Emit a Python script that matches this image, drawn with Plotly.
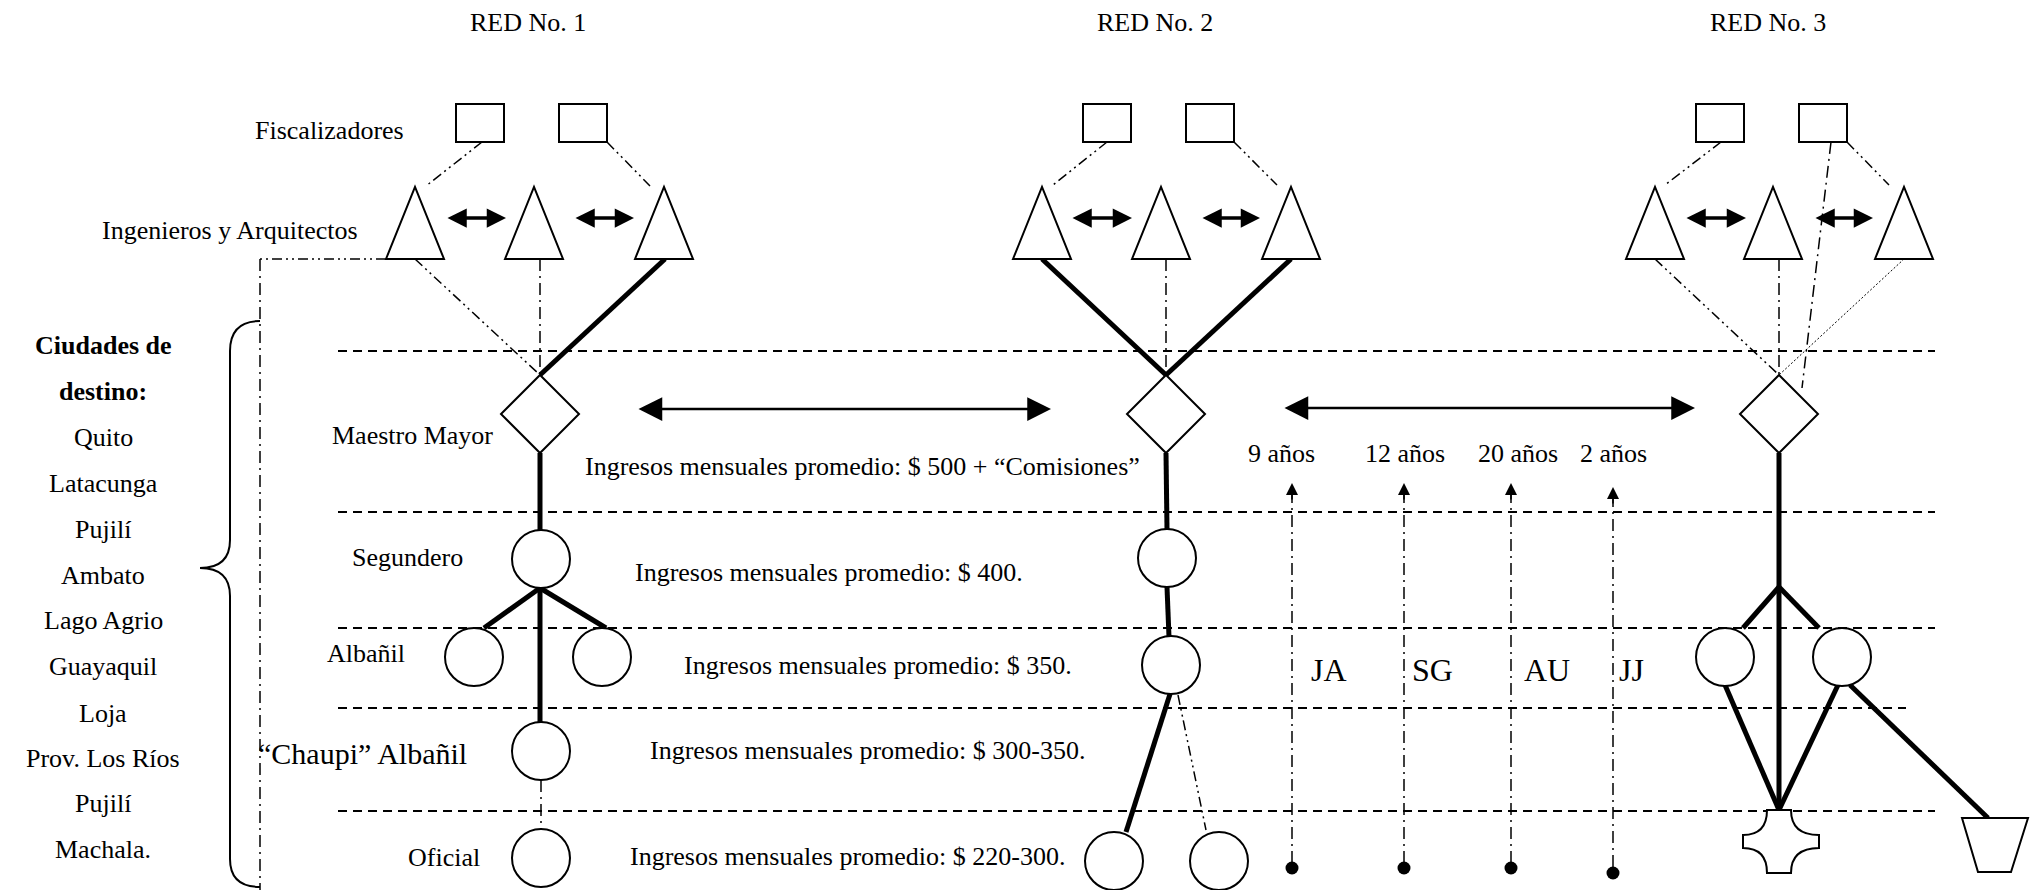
import plotly.graph_objects as go

W, H = 2033, 890
FONT = "Liberation Serif, Times New Roman, serif"
FS = 26

# ---------------- text content ----------------
network_titles = ["RED No. 1", "RED No. 2", "RED No. 3"]
network_title_x = [528, 1155, 1768]
network_title_y = [22, 22, 22]

role_labels = ["Fiscalizadores", "Ingenieros y Arquitectos", "Maestro Mayor", "Segundero",
               "Albañil", "“Chaupi” Albañil", "Oficial"]
role_label_x = [329, 230, 412, 407, 366, 362, 444]
role_label_y = [130, 230, 435, 557, 653, 753, 857]
role_label_size = [26, 26, 26, 26, 26, 30, 26]

income_labels = ["Ingresos mensuales promedio: $ 500 + “Comisiones”",
                 "Ingresos mensuales promedio: $ 400.",
                 "Ingresos mensuales promedio: $ 350.",
                 "Ingresos mensuales promedio: $ 300-350.",
                 "Ingresos mensuales promedio: $ 220-300."]
income_x = [862, 829, 878, 867, 847]
income_y = [466, 572, 665, 750, 856]

city_header = ["Ciudades de", "destino:"]
city_header_y = [345, 391]
cities = ["Quito", "Latacunga", "Pujilí", "Ambato", "Lago Agrio", "Guayaquil",
          "Loja", "Prov. Los Ríos", "Pujilí", "Machala."]
city_y = [437, 483, 529, 575, 620, 666, 713, 758, 803, 849]
city_x = 103

years = ["9 años", "12 años", "20 años", "2 años"]
years_text_x = [1281, 1405, 1518, 1613]
years_text_y = 453
initials = ["JA", "SG", "AU", "JJ"]
initials_x = [1329, 1432, 1547, 1631]
initials_y = 670
trajectory_x = [1292, 1404, 1511, 1613]
trajectory_top = [483, 483, 483, 487]
trajectory_bottom = [868, 868, 868, 873]

# ---------------- diagram geometry ----------------
band_y = [351, 512, 628, 708, 811]
band_x0 = 338
band_x1 = [1935, 1935, 1935, 1906, 1935]

square_x = [480, 583, 1107, 1210, 1720, 1823]
square_y = 123
square_hw, square_hh = 24, 19

triangle_x = [415, 534, 664, 1042, 1161, 1291, 1655, 1773, 1904]
tri_apex_y, tri_base_y, tri_hw = 187, 259, 29

tri_arrows = [(446, 506), (574, 634), (1071, 1132), (1201, 1260), (1685, 1746), (1814, 1873)]
tri_arrow_y = 218

diamond_x = [540, 1166, 1779]
diamond_y = 414
diamond_h = 39

circle_x = [541, 474, 602, 541, 541, 1167, 1171, 1114, 1219, 1725, 1842]
circle_y = [559, 657, 657, 751, 858, 558, 665, 861, 861, 657, 657]
circle_r = 29

long_arrows = [(637, 1051, 409), (1283, 1695, 408)]

# edges: x0, y0, x1, y1, style
edges = [
    # fiscalizadores -> ingenieros
    (482, 142, 426, 186, "dd"), (607, 142, 650, 186, "dd"),
    (1107, 142, 1053, 185, "dd"), (1234, 142, 1277, 185, "dd"),
    (1721, 142, 1665, 185, "dd"), (1847, 142, 1889, 185, "dd"),
    (1831, 142, 1802, 388, "ld"),
    # ingenieros -> maestro mayor
    (415, 259, 540, 375, "dd"), (540, 259, 540, 375, "ld"), (665, 259, 540, 375, "thick"),
    (1042, 259, 1166, 375, "thick"), (1166, 259, 1166, 375, "ld"), (1291, 259, 1166, 375, "thick"),
    (1655, 259, 1779, 375, "dd"), (1779, 259, 1779, 375, "ld"), (1904, 259, 1779, 375, "dot"),
    # left frame
    (386, 259, 260, 259, "dd"), (260, 259, 260, 890, "ld"),
    # RED 1 lower
    (540, 453, 540, 530, "thick"), (540, 588, 484, 628, "thick"), (540, 588, 606, 628, "thick"),
    (540, 588, 540, 722, "thick"), (541, 780, 541, 829, "ld"),
    # RED 2 lower
    (1166, 453, 1167, 529, "thick"), (1167, 587, 1169, 637, "thick"),
    (1170, 694, 1126, 832, "thick"), (1178, 695, 1206, 830, "dd"),
    # RED 3 lower
    (1779, 453, 1779, 810, "thick"), (1779, 587, 1743, 628, "thick"), (1779, 587, 1819, 628, "thick"),
    (1725, 685, 1779, 810, "thick"), (1838, 685, 1779, 810, "thick"), (1850, 685, 1988, 818, "thick"),
]

edge_styles = {
    "thick": dict(width=5, dash="solid"),
    "dd": dict(width=1.5, dash="10px,4px,2px,4px,2px,4px"),
    "ld": dict(width=1.5, dash="12px,5px,2px,5px"),
    "dot": dict(width=1, dash="2px,2px"),
}

# special shapes (RED 3 bottom)
cross_cx, cross_top, cross_bot, cross_left, cross_right = 1779, 810, 873, 1743, 1819
cross_arm, cross_mid0, cross_mid1 = 12, 835, 848
bucket_top_x = (1962, 2028)
bucket_bot_x = (1978, 2011)
bucket_y = (818, 872)

brace_x = (260, 230, 200)
brace_y = (321, 568, 887)

# ---------------- build figure ----------------
shapes = []
annotations = []

for y, x1 in zip(band_y, band_x1):
    shapes.append(dict(type="line", xref="x", yref="y", x0=band_x0, x1=x1, y0=y, y1=y,
                       line=dict(color="black", width=2, dash="9px,6px")))

for x0, y0, x1, y1, st in edges:
    shapes.append(dict(type="line", xref="x", yref="y", x0=x0, y0=y0, x1=x1, y1=y1,
                       line=dict(color="black", **edge_styles[st])))

# trajectories (dash-dot vertical lines)
for x, yt, yb in zip(trajectory_x, trajectory_top, trajectory_bottom):
    shapes.append(dict(type="line", xref="x", yref="y", x0=x, x1=x, y0=yt + 8, y1=yb,
                       line=dict(color="black", width=1.5, dash="12px,5px,2px,5px")))
    annotations.append(dict(x=x, y=yt, ax=x, ay=yt + 18, xref="x", yref="y", axref="x", ayref="y",
                            text="", showarrow=True, arrowhead=2, arrowsize=1.6, arrowwidth=1.5,
                            arrowcolor="black", standoff=0))

# brace
bx0, bx1, bx2 = brace_x
by0, bym, by1 = brace_y
brace_path = (f"M {bx0},{by0} Q {bx1},{by0} {bx1},{by0+30} L {bx1},{bym-28} "
              f"Q {bx1},{bym} {bx2},{bym} Q {bx1},{bym} {bx1},{bym+28} L {bx1},{by1-28} "
              f"Q {bx1},{by1} {bx0},{by1}")
shapes.append(dict(type="path", xref="x", yref="y", path=brace_path,
                   line=dict(color="black", width=2)))

node_line = dict(color="black", width=2)
for x in square_x:
    shapes.append(dict(type="rect", xref="x", yref="y", x0=x - square_hw, x1=x + square_hw,
                       y0=square_y - square_hh, y1=square_y + square_hh,
                       line=node_line, fillcolor="white"))
for x in triangle_x:
    shapes.append(dict(type="path", xref="x", yref="y",
                       path=f"M {x-tri_hw},{tri_base_y} L {x},{tri_apex_y} L {x+tri_hw},{tri_base_y} Z",
                       line=node_line, fillcolor="white"))
for x in diamond_x:
    d = diamond_h
    shapes.append(dict(type="path", xref="x", yref="y",
                       path=f"M {x},{diamond_y-d} L {x+d},{diamond_y} L {x},{diamond_y+d} L {x-d},{diamond_y} Z",
                       line=node_line, fillcolor="white"))
for x, y in zip(circle_x, circle_y):
    shapes.append(dict(type="circle", xref="x", yref="y", x0=x - circle_r, x1=x + circle_r,
                       y0=y - circle_r, y1=y + circle_r, line=node_line, fillcolor="white"))

cx, a = cross_cx, cross_arm
cross_path = (f"M {cx-a},{cross_top} L {cx+a},{cross_top} Q {cx+a},{cross_mid0} {cross_right},{cross_mid0} "
              f"L {cross_right},{cross_mid1} Q {cx+a},{cross_mid1} {cx+a},{cross_bot} "
              f"L {cx-a},{cross_bot} Q {cx-a},{cross_mid1} {cross_left},{cross_mid1} "
              f"L {cross_left},{cross_mid0} Q {cx-a},{cross_mid0} {cx-a},{cross_top} Z")
shapes.append(dict(type="path", xref="x", yref="y", path=cross_path, line=node_line, fillcolor="white"))
bucket_path = (f"M {bucket_top_x[0]},{bucket_y[0]} L {bucket_top_x[1]},{bucket_y[0]} "
               f"L {bucket_bot_x[1]},{bucket_y[1]} L {bucket_bot_x[0]},{bucket_y[1]} Z")
shapes.append(dict(type="path", xref="x", yref="y", path=bucket_path, line=node_line, fillcolor="white"))

# double arrows
def dbl_arrow(x0, x1, y, width, size):
    annotations.append(dict(x=x1, y=y, ax=x0, ay=y, xref="x", yref="y", axref="x", ayref="y",
                            text="", showarrow=True, arrowhead=2, startarrowhead=2,
                            arrowside="end+start", arrowwidth=width, arrowsize=size,
                            startarrowsize=size, arrowcolor="black", standoff=0, startstandoff=0))

for x0, x1 in tri_arrows:
    dbl_arrow(x0, x1, tri_arrow_y, 3.5, 1.1)
for x0, x1, y in long_arrows:
    dbl_arrow(x0, x1, y, 2.5, 1.9)

def label(text, x, y, size=FS, bold=False):
    annotations.append(dict(x=x, y=y, xref="x", yref="y", text=f"<b>{text}</b>" if bold else text,
                            showarrow=False, xanchor="center", yanchor="middle",
                            font=dict(family=FONT, size=size, color="black")))

for t, x, y in zip(network_titles, network_title_x, network_title_y):
    label(t, x, y)
for t, x, y, s in zip(role_labels, role_label_x, role_label_y, role_label_size):
    label(t, x, y, size=s)
for t, x, y in zip(income_labels, income_x, income_y):
    label(t, x, y)
for t, y in zip(city_header, city_header_y):
    label(t, city_x, y, bold=True)
for t, y in zip(cities, city_y):
    label(t, city_x, y)
for t, x in zip(years, years_text_x):
    label(t, x, years_text_y)
for t, x in zip(initials, initials_x):
    label(t, x, initials_y, size=32)

fig = go.Figure()
fig.add_trace(go.Scatter(x=trajectory_x, y=trajectory_bottom, mode="markers",
                         marker=dict(color="black", size=13, symbol="circle"),
                         hoverinfo="skip", showlegend=False))

fig.update_layout(
    width=W, height=H, margin=dict(l=0, r=0, t=0, b=0),
    paper_bgcolor="white", plot_bgcolor="white",
    xaxis=dict(range=[0, W], visible=False, fixedrange=True),
    yaxis=dict(range=[H, 0], visible=False, fixedrange=True),
    shapes=shapes, annotations=annotations, showlegend=False,
)

fig.write_html("out.html", config={"displayModeBar": False},
               post_script="document.body.style.margin='0';document.body.style.overflow='hidden';")
